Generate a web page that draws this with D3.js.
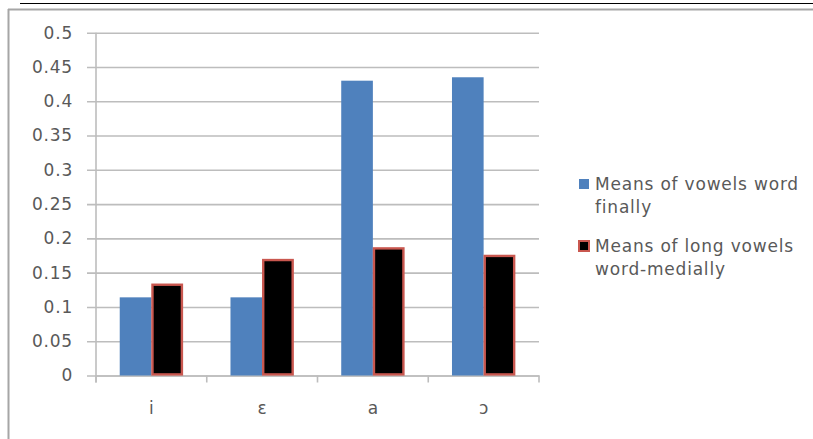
<!DOCTYPE html>
<html>
<head>
<meta charset="utf-8">
<script src="https://cdn.jsdelivr.net/npm/d3@7"></script>
<style>
  html, body { margin: 0; padding: 0; background: #fff; }
  svg { display: block; }
  text { font-family: "DejaVu Sans", sans-serif; fill: #595959; }
</style>
</head>
<body>
<svg id="chart" width="813" height="439"></svg>
<script>
// ---- data ----
const categories = ["i", "ε", "a", "ɔ"];
const seriesNames = ["Means of vowels word finally", "Means of long vowels word-medially"];
const legendLines = [["Means of vowels word", "finally"], ["Means of long vowels", "word-medially"]];
const finalMeans = [0.114, 0.114, 0.430, 0.435];
const medialMeans = [0.134, 0.170, 0.187, 0.176];
const yTicks = [0, 0.05, 0.1, 0.15, 0.2, 0.25, 0.3, 0.35, 0.4, 0.45, 0.5];
const yTickLabels = ["0", "0.05", "0.1", "0.15", "0.2", "0.25", "0.3", "0.35", "0.4", "0.45", "0.5"];

const seriesValues = [finalMeans, medialMeans];
const fills = ["#4f81bd", "#000000"];
const strokes = ["none", "#c9574f"];

const svg = d3.select("#chart");

// frame lines
svg.append("line").attr("x1", 20).attr("x2", 813).attr("y1", 3.5).attr("y2", 3.5)
  .attr("stroke", "#000").attr("stroke-width", 1.2);
svg.append("line").attr("x1", 8).attr("x2", 813).attr("y1", 9.5).attr("y2", 9.5)
  .attr("stroke", "#a6a6a6").attr("stroke-width", 2);
svg.append("line").attr("x1", 8.5).attr("x2", 8.5).attr("y1", 9).attr("y2", 439)
  .attr("stroke", "#a6a6a6").attr("stroke-width", 2);

// scales
const plotLeft = 96, plotRight = 539, plotTop = 32.7, plotBottom = 375.5;
const x0 = d3.scaleBand().domain(categories).range([plotLeft, plotRight]).paddingInner(0).paddingOuter(0);
const x1 = d3.scaleBand().domain(d3.range(seriesNames.length)).range([0, x0.bandwidth()])
  .paddingInner(0).paddingOuter(0.75);
const y = d3.scaleLinear().domain([0, 0.5]).range([plotBottom, plotTop]);

// gridlines + y axis
const yAxis = d3.axisLeft(y).tickValues(yTicks)
  .tickFormat((d, i) => yTickLabels[i])
  .tickSize(-(plotRight - plotLeft)).tickPadding(14);
const gy = svg.append("g").attr("transform", `translate(${plotLeft},0)`).call(yAxis);
gy.select(".domain").remove();
gy.selectAll(".tick line").attr("stroke", "#bdbdbd").attr("stroke-width", 1.6).attr("x1", -9);
gy.selectAll(".tick text").attr("font-size", 17).attr("letter-spacing", "0.8px")
  .attr("fill", "#595959").attr("x", -23);

// y axis line
svg.append("line").attr("x1", plotLeft).attr("x2", plotLeft).attr("y1", plotTop).attr("y2", plotBottom + 7)
  .attr("stroke", "#bdbdbd").attr("stroke-width", 1.6);

// x axis
const xAxis = d3.axisBottom(x0).tickSize(0).tickPadding(0);
const gx = svg.append("g").attr("transform", `translate(0,${plotBottom})`).call(xAxis);
gx.select(".domain").attr("stroke", "#bdbdbd").attr("stroke-width", 1.6);
gx.selectAll(".tick line").remove();
gx.selectAll(".tick text").attr("font-size", 17).attr("fill", "#595959")
  .attr("y", 38.5).attr("dy", 0);
// category boundary ticks
const bounds = categories.map(c => x0(c)).concat([plotRight]);
svg.append("g").selectAll("line").data(bounds).join("line")
  .attr("x1", d => d).attr("x2", d => d)
  .attr("y1", plotBottom).attr("y2", plotBottom + 7)
  .attr("stroke", "#bdbdbd").attr("stroke-width", 1.6);

// bars
seriesValues.forEach((vals, s) => {
  const inset = s === 1 ? 1.1 : 0;
  svg.append("g").selectAll("rect").data(vals).join("rect")
    .attr("x", (d, i) => x0(categories[i]) + x1(s) + inset)
    .attr("width", x1.bandwidth() - 2 * inset)
    .attr("y", d => y(d) + inset)
    .attr("height", d => plotBottom - y(d) - 2 * inset)
    .attr("fill", fills[s])
    .attr("stroke", strokes[s])
    .attr("stroke-width", s === 1 ? 2.4 : 0);
});

// legend
const legendY = [179, 241];
const leg = svg.append("g");
legendLines.forEach((lines, s) => {
  leg.append("rect")
    .attr("x", 579).attr("y", legendY[s]).attr("width", 10).attr("height", 10)
    .attr("fill", fills[s])
    .attr("stroke", s === 1 ? strokes[s] : "none")
    .attr("stroke-width", s === 1 ? 2 : 0);
  const t = leg.append("text").attr("x", 595).attr("y", legendY[s] + 11)
    .attr("font-size", 17).attr("letter-spacing", "0.8px").attr("fill", "#595959");
  lines.forEach((ln, k) => {
    t.append("tspan").attr("x", 595).attr("dy", k === 0 ? 0 : 23.3).text(ln);
  });
});
</script>
</body>
</html>
